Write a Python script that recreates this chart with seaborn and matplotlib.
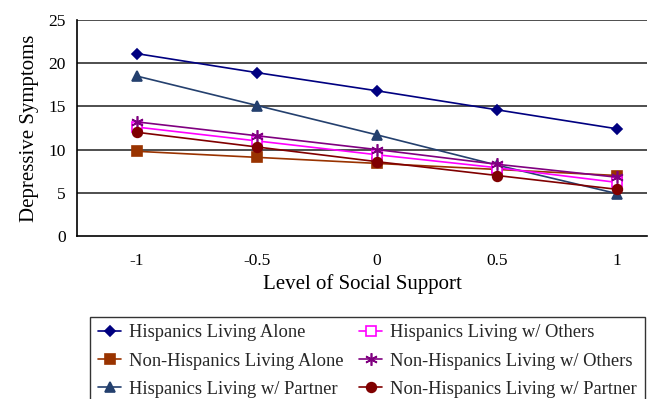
import matplotlib
matplotlib.use("Agg")
import matplotlib.pyplot as plt
import matplotlib.ticker as mticker
import seaborn as sns
import pandas as pd

# Levels of social support (x categories)
support_levels = ["-1", "-0.5", "0", "0.5", "1"]

# Predicted depressive symptoms per group
hisp_alone = [21.1, 18.9, 16.8, 14.6, 12.4]
nonhisp_alone = [9.8, 9.1, 8.4, 7.7, 7.0]
hisp_partner = [18.5, 15.1, 11.7, 8.2, 4.9]
hisp_others = [12.6, 11.0, 9.4, 7.9, 6.2]
nonhisp_others = [13.2, 11.6, 10.0, 8.3, 6.8]
nonhisp_partner = [12.0, 10.3, 8.6, 7.0, 5.4]

series_names = [
    "Hispanics Living Alone",
    "Non-Hispanics Living Alone",
    "Hispanics Living w/ Partner",
    "Hispanics Living w/ Others",
    "Non-Hispanics Living w/ Others",
    "Non-Hispanics Living w/ Partner",
]
series_values = [hisp_alone, nonhisp_alone, hisp_partner,
                 hisp_others, nonhisp_others, nonhisp_partner]

styles = {
    "Hispanics Living Alone": dict(color="#000080", marker="D", ms=5.5, mfc="#000080"),
    "Hispanics Living w/ Others": dict(color="#FF00FF", marker="s", ms=6.5, mfc="white"),
    "Non-Hispanics Living Alone": dict(color="#993300", marker="s", ms=7, mfc="#993300"),
    "Non-Hispanics Living w/ Others": dict(color="#800080", marker=(6, 2, 0), ms=9, mfc="#800080"),
    "Hispanics Living w/ Partner": dict(color="#24406E", marker="^", ms=7, mfc="#24406E"),
    "Non-Hispanics Living w/ Partner": dict(color="#800000", marker="o", ms=7, mfc="#800000"),
}

rows = []
for name, vals in zip(series_names, series_values):
    for lvl, v in zip(support_levels, vals):
        rows.append({"Level": lvl, "Symptoms": v, "Group": name})
df = pd.DataFrame(rows)

sns.set_theme(style="white")
plt.rcParams["font.family"] = ["Liberation Serif", "DejaVu Serif"]

fig = plt.figure(figsize=(6.55, 3.99), dpi=100)
ax = fig.add_axes([0.1176, 0.4085, 0.8704, 0.5415])

# Horizontal reference lines behind the data
for yv in range(5, 30, 5):
    ax.axhline(yv, color="#404040", lw=1.3, zorder=0)

for name in series_names:
    st = styles[name]
    sub = df[df["Group"] == name]
    sns.lineplot(data=sub, x="Level", y="Symptoms", ax=ax, color=st["color"],
                 marker=st["marker"], markersize=st["ms"],
                 markerfacecolor=st["mfc"], markeredgecolor=st["color"],
                 markeredgewidth=1.2, lw=1.2, label=name, zorder=3)

ax.set_xlim(-0.5, 4.25)
ax.set_ylim(0, 25)
ax.yaxis.set_major_locator(mticker.MultipleLocator(5))
ax.set_xticks(range(len(support_levels)))
ax.set_xticklabels(support_levels)
ax.set_xticks([-0.5, 0.5, 1.5, 2.5, 3.5, 4.25], minor=True)
ax.tick_params(axis="x", which="major", length=0, pad=12, labelsize=12.5, colors="black")
ax.tick_params(axis="x", which="minor", length=5, width=1, direction="out", color="black")
ax.tick_params(axis="y", which="major", length=5, width=1, direction="out",
               labelsize=12.5, colors="black", pad=3)

for side in ["top", "right"]:
    ax.spines[side].set_visible(False)
for side in ["left", "bottom"]:
    ax.spines[side].set_color("black")
    ax.spines[side].set_linewidth(1.2)

ax.set_xlabel("Level of Social Support", fontsize=15, color="black", labelpad=4)
ax.set_ylabel("Depressive Symptoms", fontsize=15, color="black", labelpad=7)

handles, labels = ax.get_legend_handles_labels()
ax.get_legend().remove()
leg = fig.legend(handles, labels, loc="upper left", ncol=2,
                 bbox_to_anchor=(0.138, 0.2063), bbox_transform=fig.transFigure,
                 fontsize=13.3, frameon=True, fancybox=False, borderpad=0.42,
                 handlelength=1.25, handletextpad=0.42, columnspacing=0.86,
                 labelspacing=0.6, borderaxespad=0)
leg.get_frame().set_edgecolor("black")
leg.get_frame().set_linewidth(1.0)

fig.savefig("out.png", dpi=100)
